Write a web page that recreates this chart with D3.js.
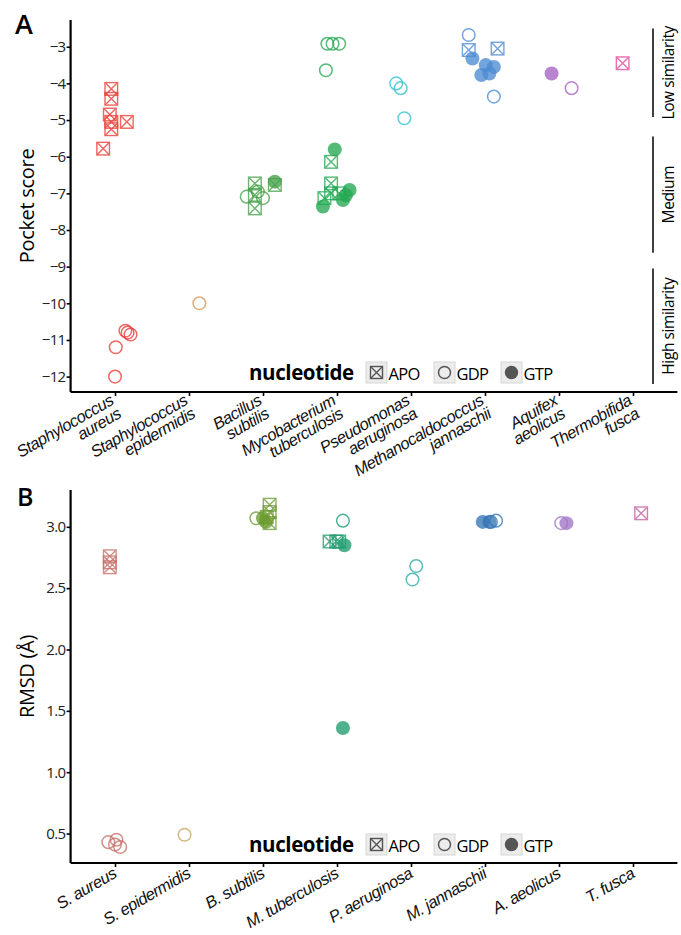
<!DOCTYPE html>
<html>
<head>
<meta charset="utf-8">
<script src="https://cdn.jsdelivr.net/npm/d3@7"></script>
<style>
  body { margin: 0; background: #fff; }
  svg { font-family: "Open Sans", "Liberation Sans", sans-serif; }
</style>
</head>
<body>
<svg id="chart" width="681" height="935"></svg>
<script>
// organisms, full names for panel A and short names for panel B
var organismsA = [
  ["Staphylococcus", "aureus"], ["Staphylococcus", "epidermidis"], ["Bacillus", "subtilis"],
  ["Mycobacterium", "tuberculosis"], ["Pseudomonas", "aeruginosa"], ["Methanocaldococcus", "jannaschii"],
  ["Aquifex", "aeolicus"], ["Thermobifida", "fusca"]
];
var organismsB = ["S. aureus", "S. epidermidis", "B. subtilis", "M. tuberculosis",
  "P. aeruginosa", "M. jannaschii", "A. aeolicus", "T. fusca"];

var colorsA = ["#ea3b34", "#d39757", "#45a04a", "#22a851", "#2ec0cf", "#4c8ad2", "#a562c2", "#e2479f"];
var colorsB = ["#c8706a", "#c4a45e", "#6c9b30", "#1e9c6e", "#2fa9a9", "#3675b5", "#a274c6", "#c65ea0"];

var nucleotides = ["APO", "GDP", "GTP"];

// pocket score points: [organism index, nucleotide, score, jitter (fraction of category step)]
var pocketScore = [
  [0, "APO", -4.15, -0.05], [0, "APO", -4.42, -0.05], [0, "APO", -4.85, -0.07], [0, "APO", -5.05, -0.05],
  [0, "APO", -5.25, -0.05], [0, "APO", -5.05, 0.16], [0, "APO", -5.78, -0.16],
  [0, "GDP", -12.0, 0.0], [0, "GDP", -11.2, 0.01], [0, "GDP", -10.75, 0.14], [0, "GDP", -10.8, 0.17], [0, "GDP", -10.85, 0.21],
  [1, "GDP", -10.0, 0.14],
  [2, "APO", -6.73, -0.11], [2, "APO", -7.04, -0.11], [2, "APO", -7.41, -0.11], [2, "APO", -6.77, 0.16],
  [2, "GDP", -7.09, -0.22], [2, "GDP", -7.13, 0.0], [2, "GDP", -6.95, -0.07], [2, "GTP", -6.68, 0.16],
  [3, "GDP", -2.92, -0.13], [3, "GDP", -2.92, -0.06], [3, "GDP", -2.92, 0.03], [3, "GDP", -3.64, -0.15],
  [3, "APO", -6.14, -0.08], [3, "APO", -6.73, -0.08], [3, "APO", -7.0, -0.08], [3, "APO", -7.13, -0.17], [3, "APO", -7.0, 0.03],
  [3, "GTP", -5.8, -0.03], [3, "GTP", -7.36, -0.19], [3, "GTP", -7.05, 0.12], [3, "GTP", -6.91, 0.17], [3, "GTP", -7.18, 0.08],
  [4, "GDP", -4.0, -0.2], [4, "GDP", -4.13, -0.14], [4, "GDP", -4.95, -0.09],
  [5, "GDP", -2.68, -0.22], [5, "GDP", -4.36, 0.12], [5, "APO", -3.09, -0.22], [5, "APO", -3.05, 0.17],
  [5, "GTP", -3.32, -0.17], [5, "GTP", -3.5, 0.01], [5, "GTP", -3.55, 0.12], [5, "GTP", -3.77, -0.05], [5, "GTP", -3.73, 0.06],
  [6, "GTP", -3.73, -0.1], [6, "GDP", -4.13, 0.17],
  [7, "APO", -3.45, -0.14]
];

// RMSD points: [organism index, nucleotide, rmsd, jitter]
var rmsd = [
  [0, "APO", 2.76, -0.07], [0, "APO", 2.71, -0.07], [0, "APO", 2.67, -0.07],
  [0, "GDP", 0.43, -0.09], [0, "GDP", 0.45, 0.02], [0, "GDP", 0.39, 0.07], [0, "GDP", 0.41, 0.0],
  [1, "GDP", 0.49, -0.06],
  [2, "APO", 3.18, 0.09], [2, "APO", 3.12, 0.09], [2, "APO", 3.03, 0.09], [2, "APO", 3.08, 0.05],
  [2, "GDP", 3.07, -0.09], [2, "GTP", 3.07, 0.0], [2, "GTP", 3.04, 0.04],
  [3, "GDP", 3.05, 0.08], [3, "APO", 2.88, -0.1], [3, "APO", 2.88, -0.01], [3, "APO", 2.88, 0.03],
  [3, "GTP", 2.85, 0.1], [3, "GTP", 1.36, 0.08],
  [4, "GDP", 2.68, 0.07], [4, "GDP", 2.57, 0.02],
  [5, "GTP", 3.04, -0.03], [5, "GTP", 3.04, 0.06], [5, "GDP", 3.05, 0.15], [5, "GDP", 3.04, 0.08],
  [6, "GDP", 3.03, 0.03], [6, "GTP", 3.03, 0.1],
  [7, "APO", 3.11, 0.11]
];

var scoreTicks = [-3, -4, -5, -6, -7, -8, -9, -10, -11, -12];
var rmsdTicks = [0.5, 1.0, 1.5, 2.0, 2.5, 3.0];

// similarity bands on the right of panel A: [label, from, to]
var bands = [
  ["Low similarity", -2.5, -4.92],
  ["Medium", -5.45, -8.62],
  ["High similarity", -9.05, -12.2]
];

var svg = d3.select("#chart");
var left = 70.6, right = 677.4;
var labelAngle = -30;

var x = d3.scalePoint()
    .domain(d3.range(organismsA.length))
    .range([left, right])
    .padding(0.6);

var yA = d3.scaleLinear().domain([-12.42, -2.27]).range([392, 20]);
var yB = d3.scaleLinear().domain([0.26, 3.30]).range([863, 490]);

function drawMarker(g, nuc, color, r) {
    if (nuc === "APO") {
        g.append("rect")
            .attr("x", -r).attr("y", -r).attr("width", 2 * r).attr("height", 2 * r)
            .attr("fill", "none").attr("stroke", color).attr("stroke-width", 1.4);
        g.append("path")
            .attr("d", "M" + (-r) + "," + (-r) + "L" + r + "," + r + "M" + r + "," + (-r) + "L" + (-r) + "," + r)
            .attr("stroke", color).attr("stroke-width", 1.4);
    } else if (nuc === "GDP") {
        g.append("circle").attr("r", r)
            .attr("fill", "none").attr("stroke", color).attr("stroke-width", 1.5);
    } else {
        g.append("circle").attr("r", r + 0.7).attr("fill", color);
    }
}

function panel(data, y, ticks, colors, fmt) {
    var step = x.step();
    var pts = svg.append("g");
    data.forEach(function (d) {
        var g = pts.append("g")
            .attr("transform", "translate(" + (x(d[0]) + d[3] * step) + "," + y(d[2]) + ")")
            .attr("opacity", 0.78);
        drawMarker(g, d[1], colors[d[0]], 6.3);
    });

    var yAxis = d3.axisLeft(y).tickValues(ticks).tickSize(4).tickFormat(fmt);
    var ga = svg.append("g").attr("transform", "translate(" + left + ",0)").call(yAxis);
    ga.select(".domain").attr("d", "M0," + y.range()[1] + "V" + y.range()[0]).attr("stroke-width", 2.2);
    ga.selectAll(".tick line").attr("stroke-width", 1.6);
    ga.selectAll(".tick text").attr("font-size", 15).attr("fill", "#222").attr("x", -5)
        .attr("font-family", "Open Sans").attr("letter-spacing", -0.6);

    var xAxis = d3.axisBottom(x).tickSize(4).tickFormat("");
    var gx = svg.append("g").attr("transform", "translate(0," + y.range()[0] + ")").call(xAxis);
    gx.select(".domain").attr("d", "M" + left + ",0H" + right).attr("stroke-width", 2.2);
    gx.selectAll(".tick line").attr("stroke-width", 1.6);
    return gx;
}

function legend(cy) {
    var g = svg.append("g");
    g.append("text").attr("x", 249).attr("y", cy + 7)
        .attr("font-size", 20.5).attr("font-weight", "bold").attr("letter-spacing", -0.4)
        .text("nucleotide");
    var keyX = [366, 434, 501];
    nucleotides.forEach(function (n, i) {
        g.append("rect").attr("x", keyX[i]).attr("y", cy - 11).attr("width", 21).attr("height", 21)
            .attr("fill", "#ececec").attr("stroke", "#d6d6d6");
        var k = g.append("g").attr("transform", "translate(" + (keyX[i] + 10.5) + "," + (cy - 0.5) + ")");
        drawMarker(k, n, "#555", 6);
        g.append("text").attr("x", keyX[i] + 22.5).attr("y", cy + 6.5)
            .attr("font-size", 16.5).attr("letter-spacing", -0.7).text(n);
    });
}

// ---- panel A
var gxA = panel(pocketScore, yA, scoreTicks, colorsA, function (d) { return "\u2212" + Math.abs(d); });
gxA.selectAll(".tick").each(function (i) {
    var t = d3.select(this).append("text")
        .attr("transform", "translate(-7,1) rotate(" + labelAngle + ")")
        .attr("text-anchor", "end")
        .attr("font-family", "Liberation Sans")
        .attr("font-size", 16.5).attr("font-style", "italic").attr("fill", "#111")
        .attr("letter-spacing", -0.5);
    t.append("tspan").attr("x", 0).attr("dy", "0.75em").text(organismsA[i][0]);
    t.append("tspan").attr("x", 0).attr("dy", "0.92em").text(organismsA[i][1]);
});

svg.append("text").attr("x", 15).attr("y", 34).attr("font-size", 27).attr("font-weight", 600).text("A");
svg.append("text")
    .attr("transform", "translate(34," + ((yA.range()[0] + yA.range()[1]) / 2) + ") rotate(-90)")
    .attr("text-anchor", "middle").attr("font-size", 20).attr("letter-spacing", -0.3).text("Pocket score");

bands.forEach(function (b) {
    svg.append("line").attr("x1", 653).attr("x2", 653).attr("y1", yA(b[1])).attr("y2", yA(b[2]))
        .attr("stroke", "#111").attr("stroke-width", 1.6);
    svg.append("text")
        .attr("transform", "translate(674," + ((yA(b[1]) + yA(b[2])) / 2) + ") rotate(-90)")
        .attr("text-anchor", "middle").attr("font-size", 15.5).attr("letter-spacing", -0.4).text(b[0]);
});
legend(373);

// ---- panel B
var gxB = panel(rmsd, yB, rmsdTicks, colorsB, d3.format(".1f"));
gxB.selectAll(".tick").append("text")
    .attr("transform", "translate(-4,3) rotate(" + labelAngle + ")")
    .attr("text-anchor", "end")
    .attr("dy", "0.75em")
    .attr("font-family", "Liberation Sans")
    .attr("font-size", 16.5).attr("font-style", "italic").attr("fill", "#111")
    .attr("letter-spacing", -0.5)
    .text(function (i) { return organismsB[i]; });

svg.append("text").attr("x", 17).attr("y", 506).attr("font-size", 25).attr("font-weight", 600).text("B");
svg.append("text")
    .attr("transform", "translate(34," + ((yB.range()[0] + yB.range()[1]) / 2) + ") rotate(-90)")
    .attr("text-anchor", "middle").attr("font-size", 20).attr("letter-spacing", -0.3).text("RMSD (\u00c5)");
legend(845);
</script>
</body>
</html>
